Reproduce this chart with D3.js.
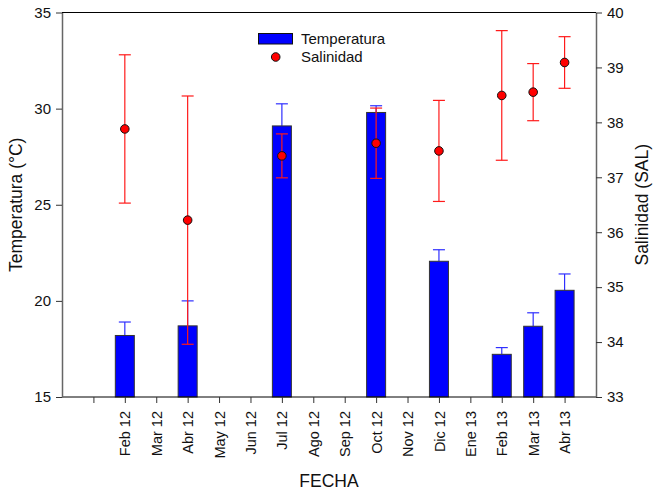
<!DOCTYPE html>
<html><head><meta charset="utf-8">
<script src="https://cdn.jsdelivr.net/npm/d3@7"></script>
<style>
body{margin:0;background:#fff;}
text{font-family:"Liberation Sans",Arial,sans-serif;}
</style></head>
<body><svg id="c" width="653" height="494"></svg>
<script>
const categories = ["", "Feb 12","Mar 12","Abr 12","May 12","Jun 12","Jul 12","Ago 12","Sep 12","Oct 12","Nov 12","Dic 12","Ene 13","Feb 13","Mar 13","Abr 13"];
const tempCats = ["Feb 12","Abr 12","Jul 12","Oct 12","Dic 12","Feb 13","Mar 13","Abr 13"];
const tempValues = [18.2, 18.7, 29.1, 29.8, 22.06, 17.22, 18.68, 20.55];
const tempErr = [0.7, 1.3, 1.15, 0.35, 0.6, 0.35, 0.7, 0.85];
const salCats = ["Feb 12","Abr 12","Jul 12","Oct 12","Dic 12","Feb 13","Mar 13","Abr 13"];
const salValues = [37.88, 36.22, 37.39, 37.62, 37.48, 38.49, 38.55, 39.09];
const salErr = [1.35, 2.26, 0.4, 0.64, 0.92, 1.18, 0.52, 0.47];
const leftTicks = [15,20,25,30,35];
const rightTicks = [33,34,35,36,37,38,39,40];

const svg = d3.select("#c");
const L=62, R=596, T=12.5, B=397;
const x = d3.scalePoint().domain(categories).range([L,R]).padding(1);
const yL = d3.scaleLinear().domain([15,35]).range([B,T]);
const yR = d3.scaleLinear().domain([33,40]).range([B,T]);
const bw = 19;

const td = tempCats.map((c,i)=>({c,v:tempValues[i],e:tempErr[i]}));
const sd = salCats.map((c,i)=>({c,v:salValues[i],e:salErr[i]}));

// blue error bars (up only)
const ge = svg.append("g").attr("stroke","#2f2fff").attr("stroke-width",1.2);
td.forEach(d=>{
  const cx=x(d.c);
  ge.append("line").attr("x1",cx).attr("x2",cx).attr("y1",yL(d.v)).attr("y2",yL(d.v+d.e));
  ge.append("line").attr("x1",cx-6).attr("x2",cx+6).attr("y1",yL(d.v+d.e)).attr("y2",yL(d.v+d.e));
});
svg.append("g").selectAll("rect").data(td).join("rect")
  .attr("x",d=>x(d.c)-bw/2).attr("width",bw)
  .attr("y",d=>yL(d.v)).attr("height",d=>B-yL(d.v))
  .attr("fill","#0000ff").attr("stroke","#333").attr("stroke-width",1);

// frame
svg.append("line").attr("x1",L).attr("x2",R).attr("y1",T).attr("y2",T).attr("stroke","#000");
svg.append("line").attr("x1",L).attr("x2",R).attr("y1",B).attr("y2",B).attr("stroke","#000");

const ax = svg.append("g").attr("transform",`translate(0,${B})`)
  .call(d3.axisBottom(x).tickSize(6).tickSizeOuter(0));
ax.select(".domain").remove();
ax.selectAll(".tick line").attr("stroke","#333");
ax.selectAll(".tick text").attr("font-size",14.5).attr("fill","#111")
  .attr("transform","rotate(-90)").attr("text-anchor","end")
  .attr("x",-14).attr("y",0).attr("dy","0.35em");

const al = svg.append("g").attr("transform",`translate(${L},0)`)
  .call(d3.axisLeft(yL).tickValues(leftTicks).tickFormat(d3.format("d")).tickSize(6).tickSizeOuter(0));
al.select(".domain").attr("stroke","#666").attr("stroke-width",1.5);
al.selectAll(".tick line").attr("stroke","#333");
al.selectAll(".tick text").attr("font-size",15).attr("fill","#111").attr("x",-11);

const ar = svg.append("g").attr("transform",`translate(${R},0)`)
  .call(d3.axisRight(yR).tickValues(rightTicks).tickFormat(d3.format("d")).tickSize(6).tickSizeOuter(0));
ar.select(".domain").attr("stroke","#666").attr("stroke-width",1.5);
ar.selectAll(".tick line").attr("stroke","#333");
ar.selectAll(".tick text").attr("font-size",15).attr("fill","#111").attr("x",11);

// red error bars and dots
const gr = svg.append("g").attr("stroke","#ff1a1a").attr("stroke-width",1.2);
sd.forEach(d=>{
  const cx=x(d.c);
  gr.append("line").attr("x1",cx).attr("x2",cx).attr("y1",yR(d.v-d.e)).attr("y2",yR(d.v+d.e));
  [d.v-d.e,d.v+d.e].forEach(v=>gr.append("line").attr("x1",cx-6).attr("x2",cx+6).attr("y1",yR(v)).attr("y2",yR(v)));
});
svg.append("g").selectAll("circle").data(sd).join("circle")
  .attr("cx",d=>x(d.c)).attr("cy",d=>yR(d.v)).attr("r",4.3)
  .attr("fill","#ff0000").attr("stroke","#111").attr("stroke-width",1);

// titles
svg.append("text").attr("x",(L+R)/2).attr("y",487).attr("text-anchor","middle")
  .attr("font-size",17.5).attr("fill","#111").text("FECHA");
svg.append("text").attr("transform",`translate(22,${(T+B)/2}) rotate(-90)`).attr("text-anchor","middle")
  .attr("font-size",17.5).attr("fill","#111").text("Temperatura (°C)");
svg.append("text").attr("transform",`translate(648,${(T+B)/2}) rotate(-90)`).attr("text-anchor","middle")
  .attr("font-size",17.5).attr("fill","#111").text("Salinidad (SAL)");

// legend
const lg = svg.append("g");
lg.append("rect").attr("x",258.5).attr("y",33.5).attr("width",34).attr("height",10.5)
  .attr("fill","#0000ff").attr("stroke","#111");
lg.append("text").attr("x",301).attr("y",44).attr("font-size",15).attr("fill","#111").text("Temperatura");
lg.append("circle").attr("cx",275.7).attr("cy",57).attr("r",4.3).attr("fill","#ff0000").attr("stroke","#111");
lg.append("text").attr("x",301).attr("y",62).attr("font-size",15).attr("fill","#111").text("Salinidad");
</script></body></html>
